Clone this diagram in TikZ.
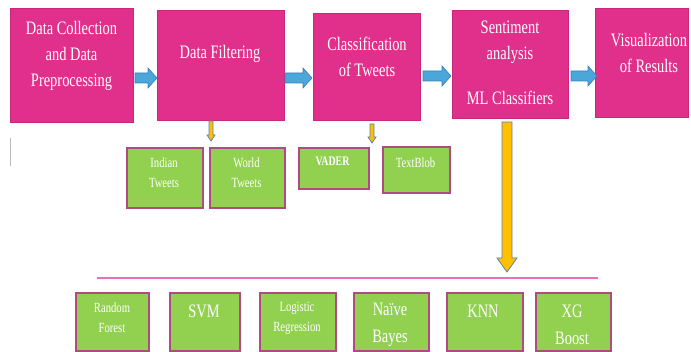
\documentclass[tikz,border=0pt]{standalone}
\usepackage{fontspec}
\setmainfont{Liberation Serif}[FakeStretch=0.76]
\definecolor{pinkfill}{HTML}{E0308C}
\definecolor{pinkdraw}{HTML}{C8287A}
\definecolor{greenfill}{HTML}{92D050}
\definecolor{greendraw}{HTML}{B04A82}
\definecolor{bluefill}{HTML}{4BA6DA}
\definecolor{bluedraw}{HTML}{3C7FB8}
\definecolor{yellowfill}{HTML}{FFC000}
\definecolor{yellowdraw}{HTML}{5A7EC0}
\definecolor{linepink}{HTML}{F06CB8}
\newcommand\blockR[3]{%
  \draw[bluearrow] (#1,{#3-5}) -- ({#2-9},{#3-5}) -- ({#2-9},{#3-10}) -- (#2,#3)
    -- ({#2-9},{#3+10}) -- ({#2-9},{#3+5}) -- (#1,{#3+5}) -- cycle;}
\newcommand\blockD[6]{%
  \draw[yellowarrow] ({#1-#4},#2) -- ({#1+#4},#2) -- ({#1+#4},{#3-#6}) -- ({#1+#5},{#3-#6})
    -- (#1,#3) -- ({#1-#5},{#3-#6}) -- ({#1-#4},{#3-#6}) -- cycle;}
\begin{document}
\begin{tikzpicture}[x=1pt,y=-1pt,
  pinkbox/.style={draw=pinkdraw, fill=pinkfill, line width=1pt, anchor=north west, inner sep=0pt},
  greenbox/.style={draw=greendraw, fill=greenfill, line width=1.6pt, anchor=north west, inner sep=0pt, minimum height=58pt},
  bigtxt/.style={text=white, font=\fontsize{19}{26}\selectfont, align=center, inner sep=0pt},
  bigtxtb/.style={text=white, font=\fontsize{19}{27}\selectfont, align=center, inner sep=0pt},
  smalltxt/.style={text=white, font=\fontsize{14}{20}\selectfont, align=center, inner sep=0pt},
  bluearrow/.style={draw=bluedraw, fill=bluefill, line width=0.6pt},
  yellowarrow/.style={draw=yellowdraw, fill=yellowfill, line width=0.8pt}]
\useasboundingbox (0,0) rectangle (691,352);
% top pink boxes
\node[pinkbox, minimum width=123pt, minimum height=114pt] (b1) at (10,8) {};
\node[pinkbox, minimum width=127pt, minimum height=110pt] (b2) at (157,10) {};
\node[pinkbox, minimum width=107pt, minimum height=107pt] (b3) at (313,13) {};
\node[pinkbox, minimum width=116pt, minimum height=108pt] (b4) at (452,10) {};
\node[pinkbox, minimum width=93pt, minimum height=109pt] (b5) at (595,8) {};
\node[bigtxt] (t1) at (71.5,56) {Data Collection\\and Data\\Preprocessing};
\node[bigtxt] (t2) at (220,54) {Data Filtering};
\node[bigtxt] (t3) at (367,57) {Classification\\of Tweets};
\node[bigtxt] (t4a) at (510,42.5) {Sentiment\\analysis};
\node[bigtxt] (t4b) at (510,98) {ML Classifiers};
\node[bigtxt] (t5) at (649,53.5) {Visualization\\of Results};
% blue arrows
\blockR{135}{157}{78}
\blockR{285}{312}{78}
\blockR{423}{451}{76}
\blockR{571}{597}{76}
% green boxes row 1
\node[greenbox, minimum width=76pt, minimum height=60pt] (g1) at (126,147) {};
\node[greenbox, minimum width=75pt, minimum height=60pt] (g2) at (209,147) {};
\node[greenbox, minimum width=70pt, minimum height=41pt] (g3) at (298,147) {};
\node[greenbox, minimum width=67pt, minimum height=46pt] (g4) at (382,146) {};
\node[smalltxt] (s1) at (164,173) {Indian\\Tweets};
\node[smalltxt] (s2) at (246.5,173) {World\\Tweets};
\node[smalltxt, font=\fontsize{13}{18}\selectfont\bfseries] (s3) at (332.5,161) {VADER};
\node[smalltxt] (s4) at (415.5,163) {TextBlob};
% yellow arrows
\blockD{211}{121}{141}{2}{4}{6}
\blockD{372}{124}{143}{2}{4}{6}
\blockD{507}{122}{272}{5}{10}{14}
% separator
\coordinate (l1) at (97,278);
\coordinate (l2) at (598,278);
\draw[linepink, line width=1.5pt] (l1) -- (l2);
% bottom boxes
\node[greenbox, minimum width=73pt] (r1) at (75,292) {};
\node[greenbox, minimum width=70pt] (r2) at (169,292) {};
\node[greenbox, minimum width=76pt] (r3) at (259,292) {};
\node[greenbox, minimum width=75pt] (r4) at (353,292) {};
\node[greenbox, minimum width=76pt] (r5) at (446,292) {};
\node[greenbox, minimum width=75pt] (r6) at (535,292) {};
\node[smalltxt] (u1) at (112,318) {Random\\Forest};
\node[bigtxt] (u2) at (204,311) {SVM};
\node[smalltxt] (u3) at (297,318.5) {Logistic\\Regression};
\node[bigtxtb] (u4) at (390,324.5) {Naïve\\Bayes};
\node[bigtxt] (u5) at (483,311) {KNN};
\node[bigtxtb] (u6) at (572,324.5) {XG\\Boost};
% small gray mark
\coordinate (m1) at (10.5,138);
\coordinate (m2) at (10.5,166);
\draw[gray!55, line width=1.2pt] (m1) -- (m2);
\end{tikzpicture}
\end{document}
